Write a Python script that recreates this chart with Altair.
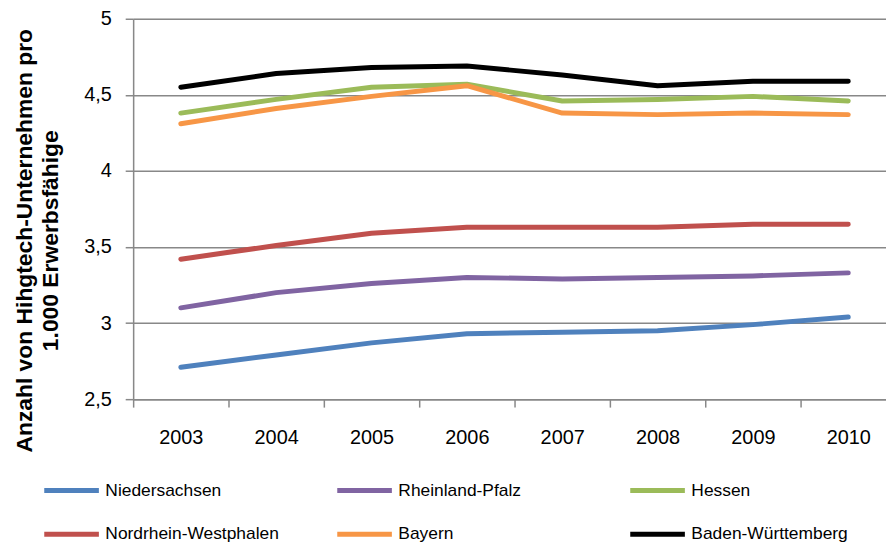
import altair as alt
import pandas as pd

years = ["2003", "2004", "2005", "2006", "2007", "2008", "2009", "2010"]
series_names = ["Niedersachsen", "Rheinland-Pfalz", "Hessen",
                "Nordrhein-Westphalen", "Bayern", "Baden-Württemberg"]
series_colors = ["#4F81BD", "#8064A2", "#9BBB59", "#C0504D", "#F79646", "#000000"]

niedersachsen = [2.71, 2.79, 2.87, 2.93, 2.94, 2.95, 2.99, 3.04]
rheinland_pfalz = [3.10, 3.20, 3.26, 3.30, 3.29, 3.30, 3.31, 3.33]
hessen = [4.38, 4.47, 4.55, 4.57, 4.46, 4.47, 4.49, 4.46]
nordrhein_westphalen = [3.42, 3.51, 3.59, 3.63, 3.63, 3.63, 3.65, 3.65]
bayern = [4.31, 4.41, 4.49, 4.56, 4.38, 4.37, 4.38, 4.37]
baden_wuerttemberg = [4.55, 4.64, 4.68, 4.69, 4.63, 4.56, 4.59, 4.59]

y_ticks = [2.5, 3, 3.5, 4, 4.5, 5]

values = [niedersachsen, rheinland_pfalz, hessen,
          nordrhein_westphalen, bayern, baden_wuerttemberg]
rows = []
for name, vals in zip(series_names, values):
    for yr, v in zip(years, vals):
        rows.append({"Jahr": yr, "Wert": v, "Land": name})
df = pd.DataFrame(rows)

FONT = "Liberation Sans"
GRID = "#888888"

chart = alt.Chart(df).mark_line(strokeWidth=5, strokeCap="round", strokeJoin="round").encode(
    x=alt.X("Jahr:O", sort=years,
            scale=alt.Scale(type="band", paddingInner=0, paddingOuter=0, range=[0, 768]),
            axis=alt.Axis(title=None, labelAngle=0, tickBand="extent", labelFontSize=20,
                          labelFont=FONT, labelColor="#000000", labelPadding=21,
                          domainColor=GRID, domainWidth=1.5, tickColor=GRID, tickWidth=1.5,
                          tickSize=8, grid=False)),
    y=alt.Y("Wert:Q", scale=alt.Scale(domain=[2.5, 5], nice=False, zero=False),
            axis=alt.Axis(values=y_ticks,
                          labelExpr="replace(toString(datum.value), '.', ',')",
                          labelFontSize=20, labelFont=FONT, labelColor="#000000",
                          labelPadding=14, tickSize=8, tickColor=GRID, tickWidth=1.5,
                          domainColor=GRID, domainWidth=1.5,
                          grid=True, gridColor=GRID, gridWidth=1.5,
                          title=["Anzahl  von Hihgtech-Unternehmen pro", "1.000 Erwerbsfähige"],
                          titleFont=FONT, titleFontSize=23, titleFontWeight="bold",
                          titleColor="#000000", titleAngle=270, titleAlign="center",
                          titleBaseline="alphabetic", titleX=-102, titleY=223,
                          titleLineHeight=26, titleLimit=800)),
    color=alt.Color("Land:N", sort=series_names,
                    scale=alt.Scale(domain=series_names, range=series_colors),
                    legend=alt.Legend(title=None, orient="none", legendX=-92, legendY=445,
                                      direction="horizontal",
                                      columns=3, gridAlign="all", columnPadding=48,
                                      rowPadding=4, symbolType="stroke",
                                      symbolSize=3025, symbolStrokeWidth=5,
                                      labelFont=FONT, labelFontSize=17.5,
                                      labelColor="#000000", labelOffset=4,
                                      labelLimit=300)),
).properties(
    width=758, height=383,
    autosize=alt.AutoSizeParams(type="none"),
    padding={"left": 126, "top": 9, "right": 0, "bottom": 146},
).configure_view(stroke=None).configure(background="#ffffff")

chart.save("out.html", embed_options={"renderer": "svg", "actions": False})
